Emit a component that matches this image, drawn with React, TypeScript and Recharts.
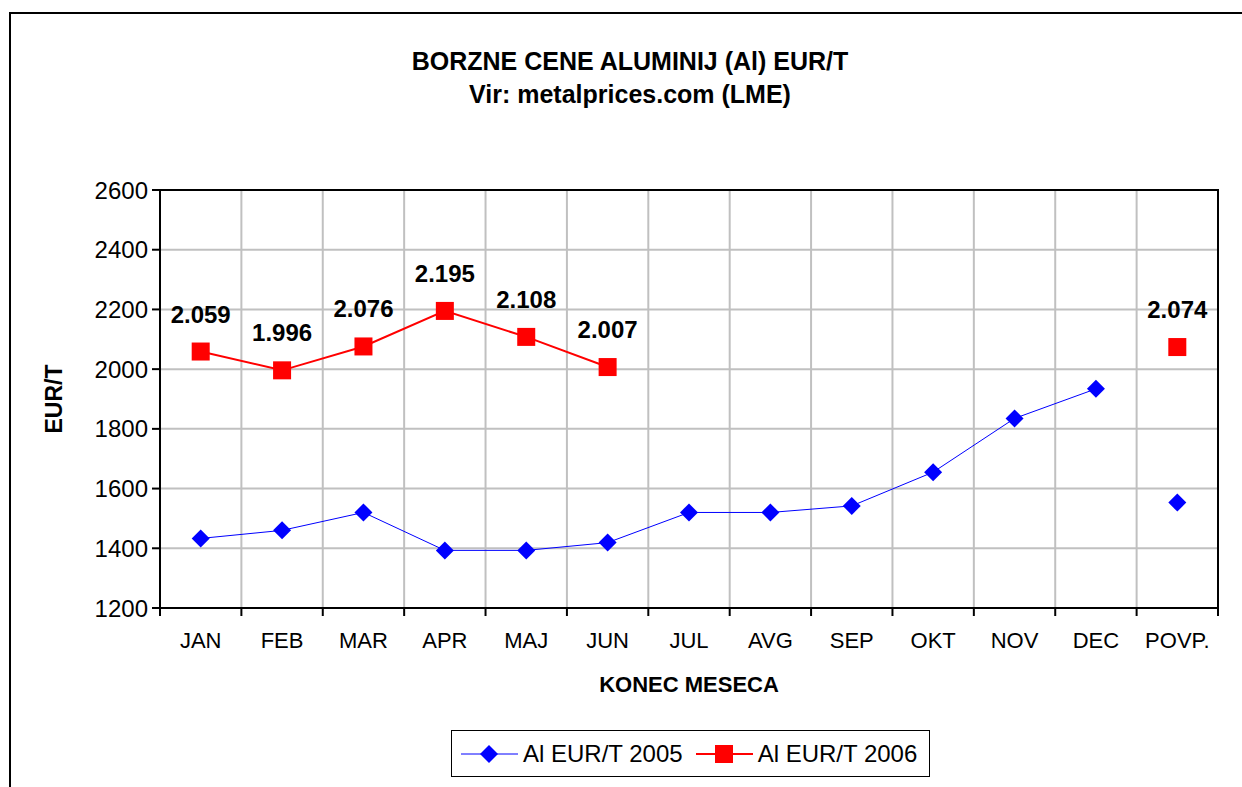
import { CartesianGrid, LabelList, Line, LineChart, ReferenceArea, XAxis, YAxis } from 'recharts'

const months = ['JAN', 'FEB', 'MAR', 'APR', 'MAJ', 'JUN', 'JUL', 'AVG', 'SEP', 'OKT', 'NOV', 'DEC', 'POVP.']
const al2005 = [1433, 1460, 1520, 1393, 1393, 1419, 1520, 1520, 1542, 1655, 1835, 1934]
const al2006 = [2059, 1996, 2076, 2195, 2108, 2007]
const avg2005 = 1553
const avg2006 = 2074
const yTicks = [1200, 1400, 1600, 1800, 2000, 2200, 2400, 2600]

const BLUE = '#0000ff'
const RED = '#ff0000'
const FONT = '"Liberation Sans", Arial, sans-serif'

const W = 1242
const H = 787
const MARGIN = { top: 190, right: 24, left: 50, bottom: 89 }
const Y_AXIS_W = 110
const PLOT_W = W - MARGIN.left - Y_AXIS_W - MARGIN.right
const BAND = PLOT_W / months.length

const data = months.map((month, i) => ({
  month,
  y2005: i < al2005.length ? al2005[i] : null,
  y2006: i < al2006.length ? al2006[i] : null,
  p2005: i === months.length - 1 ? avg2005 : null,
  p2006: i === months.length - 1 ? avg2006 : null,
}))

// 2059 -> "2.059" (slovenian thousands separator)
const fmt = (v: any) => {
  if (v == null) return ''
  const n = Math.round(Number(v))
  return `${Math.floor(n / 1000)}.${String(n % 1000).padStart(3, '0')}`
}

function Diamond(props: any) {
  const { cx, cy, index } = props
  if (cx == null || cy == null) return <g key={`d-${index}`} />
  const r = 9
  return <polygon key={`d-${index}`} points={`${cx},${cy - r} ${cx + r},${cy} ${cx},${cy + r} ${cx - r},${cy}`} fill={BLUE} />
}

function Square(props: any) {
  const { cx, cy, index } = props
  if (cx == null || cy == null) return <g key={`s-${index}`} />
  const h = 9
  return <rect key={`s-${index}`} x={cx - h} y={cy - h} width={h * 2} height={h * 2} fill={RED} />
}

// category label plus tick marks on the band edges (Excel style)
function MonthTick(props: any) {
  const { x, y, payload, index } = props
  const axisY = y - 24
  const left = x - BAND / 2
  const right = x + BAND / 2
  return (
    <g>
      <line x1={left} y1={axisY} x2={left} y2={axisY + 8} stroke="#000" strokeWidth={2} />
      {index === months.length - 1 && <line x1={right} y1={axisY} x2={right} y2={axisY + 8} stroke="#000" strokeWidth={2} />}
      <text x={x} y={y} dy="0.71em" textAnchor="middle" fontSize={22} fill="#000">{payload.value}</text>
    </g>
  )
}

function YTitle({ viewBox }: any) {
  const x = viewBox.x + 4
  const y = viewBox.y + viewBox.height / 2
  return (
    <text x={x} y={y} transform={`rotate(-90 ${x} ${y})`} textAnchor="middle" dominantBaseline="central" fontSize={23} fontWeight="bold" fill="#000">
      EUR/T
    </text>
  )
}

function LegendItem({ color, label, marker }: { color: string; label: string; marker: 'diamond' | 'square' }) {
  return (
    <div style={{ display: 'flex', alignItems: 'center' }}>
      <svg width={57} height={20}>
        <line x1={0} y1={10} x2={57} y2={10} stroke={color} strokeWidth={marker === 'square' ? 2 : 1} />
        {marker === 'diamond'
          ? <polygon points="28,1 37,10 28,19 19,10" fill={color} />
          : <rect x={19} y={1} width={18} height={18} fill={color} />}
      </svg>
      <span style={{ marginLeft: 5, fontSize: 24 }}>{label}</span>
    </div>
  )
}

export default function App() {
  return (
    <div style={{ position: 'absolute', left: 0, top: 0, width: W, height: H, overflow: 'hidden', background: '#fff', fontFamily: FONT, color: '#000' }}>
      <div style={{ position: 'absolute', left: 9, top: 12, width: 1400, height: 1000, border: '2px solid #000' }} />
      <div style={{ position: 'absolute', left: 330, top: 45, width: 600, textAlign: 'center', fontSize: 25, fontWeight: 'bold', lineHeight: '33px' }}>
        <div>BORZNE CENE ALUMINIJ (Al) EUR/T</div>
        <div>Vir: metalprices.com (LME)</div>
      </div>

      <div style={{ position: 'absolute', left: 0, top: 0 }}>
        <LineChart width={W} height={H} data={data} margin={MARGIN} style={{ fontFamily: FONT }}>
          <CartesianGrid
            stroke="#c0c0c0"
            strokeWidth={2}
            verticalCoordinatesGenerator={({ offset }: any) => months.map((_, i) => offset.left + i * BAND).concat(offset.left + offset.width)}
          />
          <XAxis
            dataKey="month"
            scale="band"
            interval={0}
            tickLine={false}
            axisLine={{ stroke: '#000', strokeWidth: 2 }}
            tickSize={0}
            tickMargin={24}
            height={90}
            tick={<MonthTick />}
            label={{ value: 'KONEC MESECA', position: 'insideBottom', offset: 6, fontSize: 22, fontWeight: 'bold', fill: '#000' }}
          />
          <YAxis
            domain={[1200, 2600]}
            ticks={yTicks}
            interval={0}
            width={Y_AXIS_W}
            tickSize={8}
            tickMargin={4}
            tick={{ fontSize: 24, fill: '#000' }}
            axisLine={{ stroke: '#000', strokeWidth: 2 }}
            tickLine={{ stroke: '#000', strokeWidth: 2 }}
            label={<YTitle />}
          />
          <ReferenceArea y1={1200} y2={2600} fill="none" stroke="#000" strokeWidth={2} ifOverflow="visible" />
          <Line dataKey="y2005" stroke={BLUE} strokeWidth={1} dot={Diamond} activeDot={false} isAnimationActive={false} />
          <Line dataKey="y2006" stroke={RED} strokeWidth={2} dot={Square} activeDot={false} isAnimationActive={false}>
            <LabelList dataKey="y2006" position="top" offset={29} formatter={fmt} fontSize={24} fontWeight="bold" fill="#000" />
          </Line>
          <Line dataKey="p2005" stroke="none" dot={Diamond} activeDot={false} isAnimationActive={false} />
          <Line dataKey="p2006" stroke="none" dot={Square} activeDot={false} isAnimationActive={false}>
            <LabelList dataKey="p2006" position="top" offset={29} formatter={fmt} fontSize={24} fontWeight="bold" fill="#000" />
          </Line>
        </LineChart>
      </div>

      <div style={{ position: 'absolute', left: 451, top: 730, width: 479, height: 47, boxSizing: 'border-box', border: '1.5px solid #000', display: 'flex', alignItems: 'center', gap: 13, paddingLeft: 9 }}>
        <LegendItem color={BLUE} label="Al EUR/T 2005" marker="diamond" />
        <LegendItem color={RED} label="Al EUR/T 2006" marker="square" />
      </div>
    </div>
  )
}
